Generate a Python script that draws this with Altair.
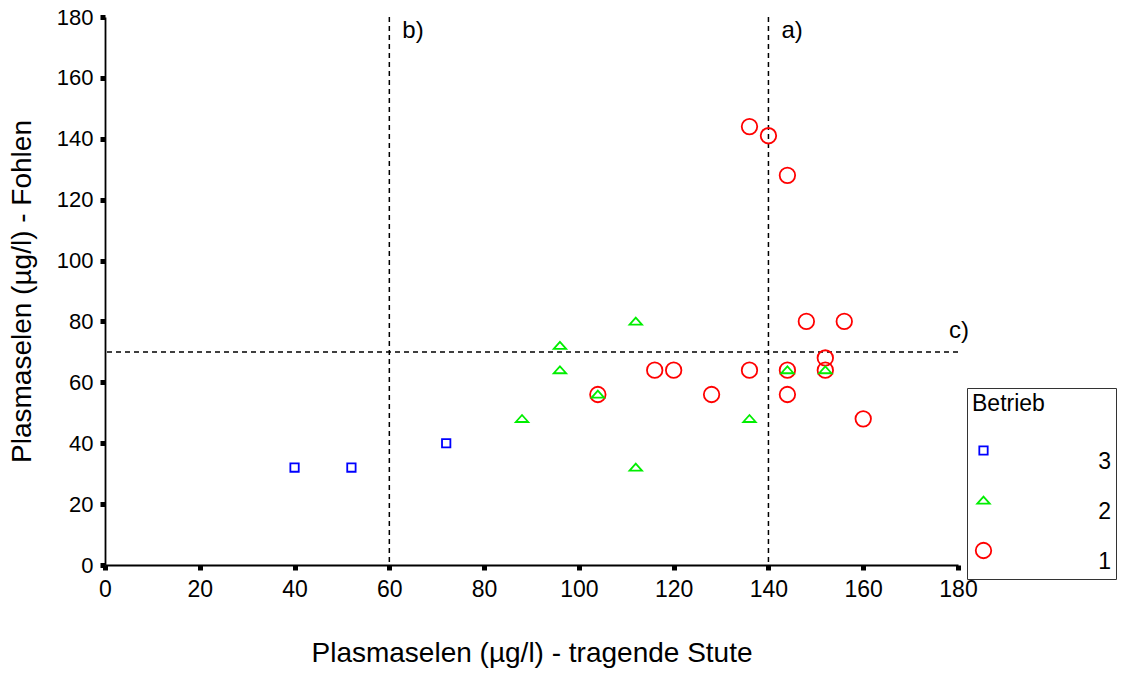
import altair as alt
import pandas as pd

# ---- data ----
betrieb_order = ["3", "2", "1"]

blue_x = [40, 52, 72]
blue_y = [32, 32, 40]

green_x = [88, 96, 96, 104, 112, 112, 136, 144, 152]
green_y = [48, 72, 64, 56, 80, 32, 48, 64, 64]

red_x = [136, 140, 144, 148, 156, 152, 152, 144, 136, 116, 120, 128, 144, 104, 160]
red_y = [144, 141, 128, 80, 80, 68, 64, 64, 64, 64, 64, 56, 56, 56, 48]

v_lines = [140, 60]
v_labels = ["a)", "b)"]
h_lines = [70]
h_labels = ["c)"]

tick_values = list(range(0, 181, 20))

# ---- tables ----
df = pd.concat([
    pd.DataFrame({"x": red_x, "y": red_y, "Betrieb": "1"}),
    pd.DataFrame({"x": green_x, "y": green_y, "Betrieb": "2"}),
    pd.DataFrame({"x": blue_x, "y": blue_y, "Betrieb": "3"}),
], ignore_index=True)

vdf = pd.DataFrame({"x": v_lines, "label": v_labels, "y": [180] * len(v_lines)})
hdf = pd.DataFrame({"y": h_lines, "label": h_labels, "x": [180] * len(h_lines)})

FONT = "Liberation Sans"
xs = alt.Scale(domain=[0, 180], nice=False, zero=False)
ys = alt.Scale(domain=[0, 180], nice=False, zero=False)

flat_triangle = "M-1,0.5L1,0.5L0,-0.62Z"

x_axis = alt.Axis(values=tick_values, title="Plasmaselen (µg/l) - tragende Stute",
                  titleY=74, titleBaseline="top", labelFlush=False,
                  labelFontSize=23, labelPadding=8)
y_axis = alt.Axis(values=tick_values, title="Plasmaselen (µg/l) - Fohlen",
                  titleX=-69, labelFontSize=22, labelPadding=7, labelFlush=False)

points = alt.Chart(df).mark_point(filled=False, strokeWidth=1.8, opacity=1).encode(
    x=alt.X("x:Q", scale=xs, axis=x_axis),
    y=alt.Y("y:Q", scale=ys, axis=y_axis),
    color=alt.Color("Betrieb:N",
                    scale=alt.Scale(domain=betrieb_order, range=["#0000ff", "#00ee00", "#ff0000"]),
                    legend=alt.Legend(orient="none", legendX=862, legendY=371,
                                      title="Betrieb", labelAlign="right", labelBaseline="top",
                                      labelOffset=116, rowPadding=15, titlePadding=23,
                                      padding=5, strokeColor="#333333",
                                      symbolStrokeWidth=1.8)),
    shape=alt.Shape("Betrieb:N",
                    scale=alt.Scale(domain=betrieb_order, range=["square", flat_triangle, "circle"])),
    size=alt.Size("Betrieb:N",
                  scale=alt.Scale(domain=betrieb_order, range=[70, 240, 200])),
)

vrules = alt.Chart(vdf).mark_rule(color="black", strokeDash=[5, 4], strokeWidth=1.5).encode(
    x=alt.X("x:Q", scale=xs)
)
hrules = alt.Chart(hdf).mark_rule(color="black", strokeDash=[5, 4], strokeWidth=1.5).encode(
    y=alt.Y("y:Q", scale=ys)
)
vtext = alt.Chart(vdf).mark_text(align="left", baseline="middle", dx=13, dy=14,
                                 fontSize=24, font=FONT, color="black").encode(
    x=alt.X("x:Q", scale=xs), y=alt.Y("y:Q", scale=ys), text="label:N")
htext = alt.Chart(hdf).mark_text(align="left", baseline="middle", dx=-9, dy=-21,
                                 fontSize=24, font=FONT, color="black").encode(
    x=alt.X("x:Q", scale=xs), y=alt.Y("y:Q", scale=ys), text="label:N")

chart = alt.layer(hrules, vrules, points, vtext, htext).properties(
    width=853, height=548,
    autosize=alt.AutoSizeParams(type="none"),
    padding={"left": 105, "top": 17, "right": 163, "bottom": 110},
).configure_view(stroke=None).configure_axis(
    grid=False, domainColor="black", domainWidth=1.8, tickColor="black",
    tickWidth=5, tickSize=5, labelFont=FONT, labelColor="black",
    titleFont=FONT, titleFontSize=28, titleFontWeight="normal", titleColor="black",
).configure_legend(
    titleFont=FONT, titleFontSize=23, titleFontWeight="normal", titleColor="black",
    labelFont=FONT, labelFontSize=23, labelColor="black",
)

chart.save("out.html", embed_options={"renderer": "svg", "actions": False})
